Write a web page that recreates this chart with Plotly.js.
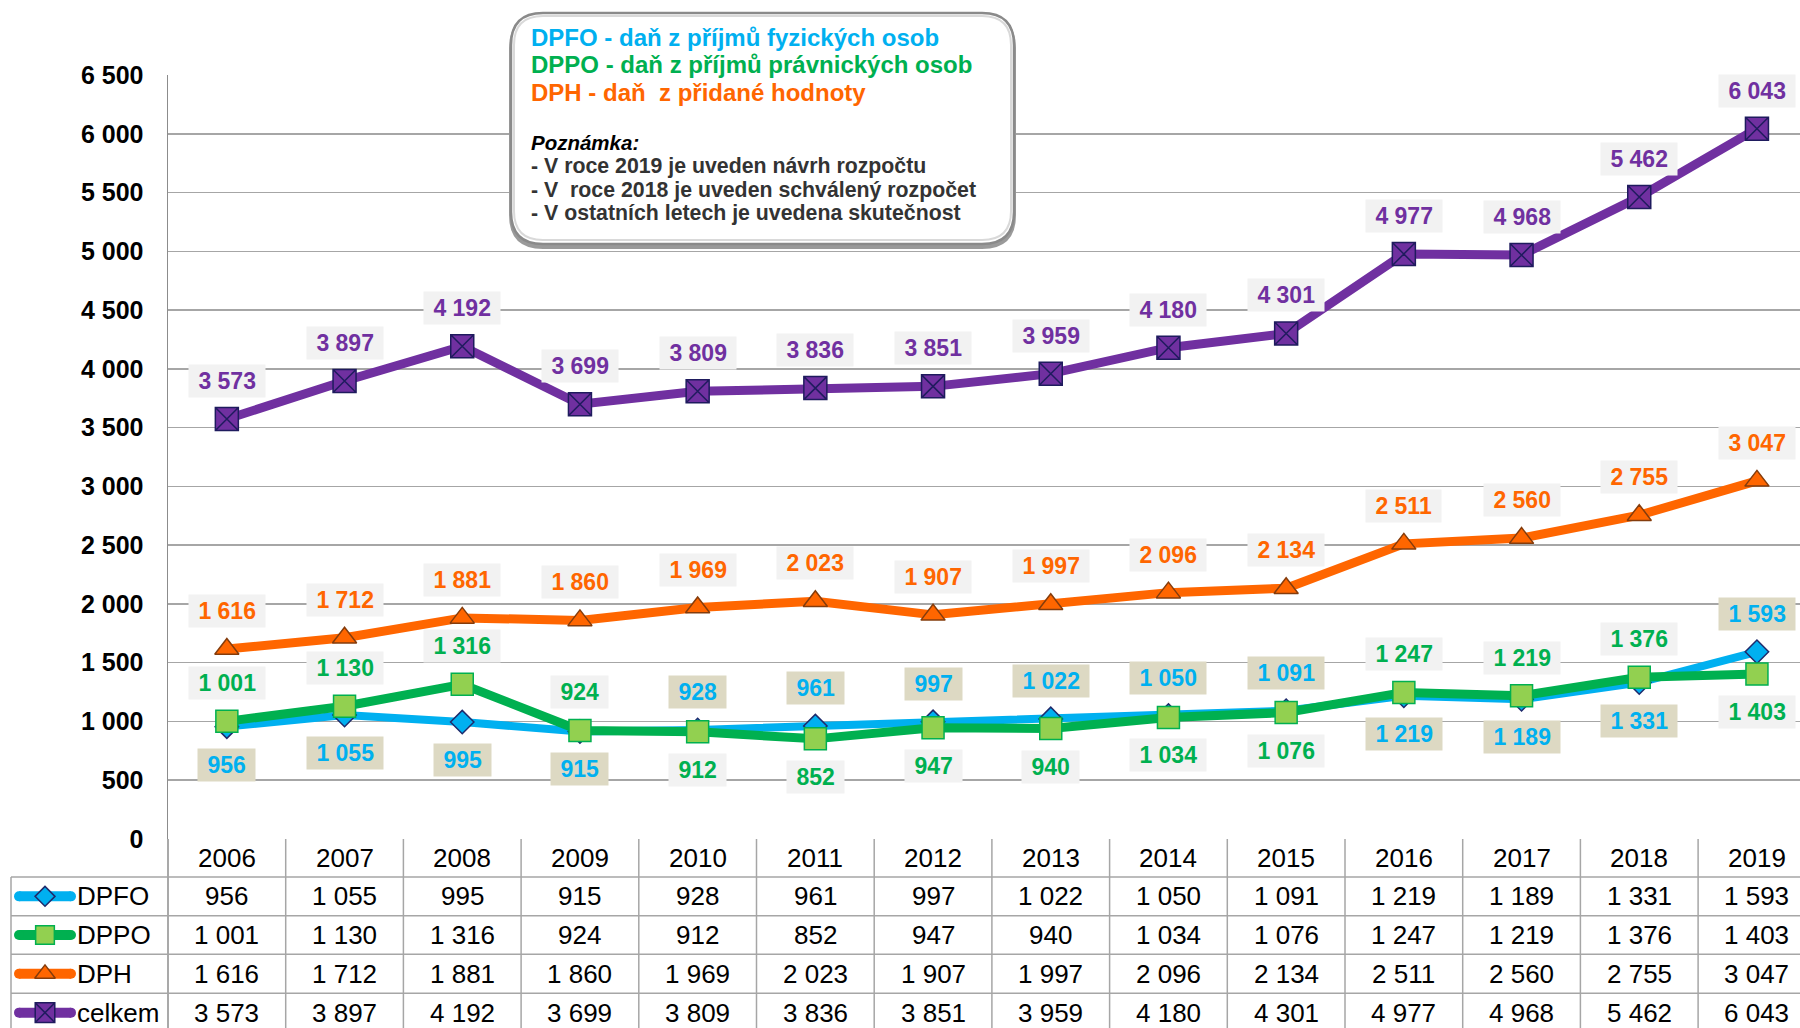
<!DOCTYPE html>
<html>
<head>
<meta charset="utf-8">
<script src="https://cdn.plot.ly/plotly-3.0.1.min.js"></script>
<style>html,body{margin:0;padding:0;background:#fff;}#chart{width:1800px;height:1028px;}</style>
</head>
<body>
<div id="chart"></div>
<script>
// ---- data ----
const years = ['2006','2007','2008','2009','2010','2011','2012','2013','2014','2015','2016','2017','2018','2019'];
const dpfo = [956,1055,995,915,928,961,997,1022,1050,1091,1219,1189,1331,1593];
const dppo = [1001,1130,1316,924,912,852,947,940,1034,1076,1247,1219,1376,1403];
const dph = [1616,1712,1881,1860,1969,2023,1907,1997,2096,2134,2511,2560,2755,3047];
const celkem = [3573,3897,4192,3699,3809,3836,3851,3959,4180,4301,4977,4968,5462,6043];
const seriesNames = ['DPFO','DPPO','DPH','celkem'];
const yTickVals = [0,500,1000,1500,2000,2500,3000,3500,4000,4500,5000,5500,6000,6500];
// label placement (+1 above, -1 below)
const dpfoLabelSide = [-1,-1,-1,-1,1,1,1,1,1,1,-1,-1,-1,1];
const dppoLabelSide = [1,1,1,1,-1,-1,-1,-1,-1,-1,1,1,1,-1];
const legendTitles = ['DPFO - daň z příjmů fyzických osob','DPPO - daň z příjmů právnických osob','DPH - daň\u00a0\u00a0z přidané hodnoty'];
const noteTitle = 'Poznámka:';
const noteLines = ['- V roce 2019 je uveden návrh rozpočtu','-\u00a0V\u00a0\u00a0roce 2018 je uveden schválený rozpočet','- V ostatních letech je uvedena skutečnost'];

// ---- styles ----
const FONT = 'Liberation Sans, Arial, sans-serif';
const C = {
  DPFO: {line:'#00B0F0', fill:'#00B0F0', edge:'#1F2A6B', sym:'diamond', size:18, lw:8, bg:'#DDD9C3'},
  DPPO: {line:'#00B050', fill:'#92D050', edge:'#00B050', sym:'square', size:22, lw:9, bg:'#F2F2F2'},
  DPH: {line:'#FF6600', fill:'#FF6600', edge:'#843C0C', sym:'triangle-up', size:21, lw:9, bg:'#F2F2F2'},
  celkem: {line:'#7030A0', fill:'#7030A0', edge:'#1F1B5E', sym:'square-x', size:23, lw:9, bg:'#F2F2F2'}
};
const seriesData = {DPFO:dpfo, DPPO:dppo, DPH:dph, celkem:celkem};
const fmt = v => String(v).replace(/\B(?=(\d{3})+(?!\d))/g, '\u00a0');

// pixel geometry
const W = 1800, H = 1028;
const plotL = 168, plotT = 75, plotB = 839;
const colW = 117.7;
const rowLines = [877, 915.7, 954.3, 993.3, 1032];
const headerMid = (plotB + rowLines[0]) / 2;

const traces = [];
seriesNames.forEach(n => {
  const s = C[n];
  traces.push({
    type:'scatter', mode:'lines+markers', x: years, y: seriesData[n], name:n,
    xaxis:'x', yaxis:'y', cliponaxis:false, hoverinfo:'skip', showlegend:false,
    line:{color:s.line, width:s.lw},
    marker:{symbol:s.sym, size:s.size, color:s.fill, line:{color:s.edge, width:1.5}}
  });
});
// legend keys in the table (overlay pixel axes)
seriesNames.forEach((n, k) => {
  const s = C[n];
  const yc = (rowLines[k] + rowLines[k+1]) / 2;
  traces.push({type:'scatter', mode:'lines', x:[19,71], y:[yc,yc], xaxis:'x2', yaxis:'y2',
    hoverinfo:'skip', showlegend:false, line:{color:s.line, width:10}});
  traces.push({type:'scatter', mode:'markers', x:[19,71], y:[yc,yc], xaxis:'x2', yaxis:'y2',
    hoverinfo:'skip', showlegend:false, marker:{symbol:'circle', size:10, color:s.line, line:{width:0}}});
  traces.push({type:'scatter', mode:'markers', x:[45], y:[yc], xaxis:'x2', yaxis:'y2',
    hoverinfo:'skip', showlegend:false,
    marker:{symbol:s.sym, size:s.size*0.85, color:s.fill, line:{color:s.edge, width:1.5}}});
});

const annotations = [];
// data labels
const sides = {DPFO:dpfoLabelSide, DPPO:dppoLabelSide, DPH:years.map(()=>1), celkem:years.map(()=>1)};
seriesNames.forEach(n => {
  const s = C[n];
  seriesData[n].forEach((v, i) => {
    annotations.push({
      xref:'x', yref:'y', x:i, y:v, yshift: 38*sides[n][i], showarrow:false,
      text:'\u00a0' + fmt(v) + '\u00a0', bgcolor:s.bg, borderpad:3,
      font:{family:FONT, size:23, color:s.line, weight:'bold'}, xanchor:'center', yanchor:'middle'
    });
  });
});
// table header years
years.forEach((yv, i) => {
  annotations.push({xref:'x', yref:'y2', x:i, y:headerMid, text:yv, showarrow:false,
    font:{family:FONT, size:26, color:'#000'}, xanchor:'center', yanchor:'middle'});
});
// table body
seriesNames.forEach((n, k) => {
  const yc = (rowLines[k] + rowLines[k+1]) / 2;
  annotations.push({xref:'x2', yref:'y2', x:75, y:yc, text:n, showarrow:false,
    font:{family:FONT, size:26, color:'#000'}, xanchor:'left', yanchor:'middle'});
  seriesData[n].forEach((v, i) => {
    annotations.push({xref:'x', yref:'y2', x:i, y:yc, text:fmt(v), showarrow:false,
      font:{family:FONT, size:26, color:'#000'}, xanchor:'center', yanchor:'middle'});
  });
});
// legend box text
const titleColors = [C.DPFO.line, C.DPPO.line, C.DPH.line];
const titleY = [37, 64.5, 92];
legendTitles.forEach((t, k) => {
  annotations.push({xref:'x2', yref:'y2', x:529, y:titleY[k], text:t, showarrow:false,
    font:{family:FONT, size:24, color:titleColors[k], weight:'bold'}, xanchor:'left', yanchor:'middle'});
});
annotations.push({xref:'x2', yref:'y2', x:529, y:142, text:'<i>' + noteTitle + '</i>', showarrow:false,
  font:{family:FONT, size:20.5, color:'#000', weight:'bold'}, xanchor:'left', yanchor:'middle'});
const noteY = [166, 189.5, 213];
noteLines.forEach((t, k) => {
  annotations.push({xref:'x2', yref:'y2', x:529, y:noteY[k], text:t, showarrow:false,
    font:{family:FONT, size:21.3, color:'#333333', weight:'bold'}, xanchor:'left', yanchor:'middle'});
});

// shapes
const shapes = [];
const gridC = '#A6A6A6';
// table vertical lines
for (let i = 0; i < years.length; i++) {
  shapes.push({type:'line', xref:'x', yref:'y2', x0:i+0.5, x1:i+0.5, y0:plotB, y1:H+5, line:{color:gridC, width:1.5}, layer:'above'});
}
shapes.push({type:'line', xref:'x2', yref:'y2', x0:plotL, x1:plotL, y0:plotB, y1:H+5, line:{color:'#8C8C8C', width:1.5}, layer:'above'});
// table horizontal lines
rowLines.slice(0,4).forEach(yy => {
  shapes.push({type:'line', xref:'x2', yref:'y2', x0:11, x1:W+5, y0:yy, y1:yy, line:{color:gridC, width:1.5}, layer:'above'});
});
shapes.push({type:'line', xref:'x2', yref:'y2', x0:11, x1:11, y0:rowLines[0], y1:H+5, line:{color:gridC, width:1.5}, layer:'above'});

// legend box (rounded rectangle)
function rr(x0, y0, x1, y1, r) {
  return `M ${x0+r},${y0} L ${x1-r},${y0} Q ${x1},${y0} ${x1},${y0+r} L ${x1},${y1-r} Q ${x1},${y1} ${x1-r},${y1} ` +
         `L ${x0+r},${y1} Q ${x0},${y1} ${x0},${y1-r} L ${x0},${y0+r} Q ${x0},${y0} ${x0+r},${y0} Z`;
}
shapes.push({type:'path', xref:'x2', yref:'y2', path: rr(509, 14, 1016, 249, 34), fillcolor:'#9a9a9a', line:{width:0}, layer:'above'});
shapes.push({type:'path', xref:'x2', yref:'y2', path: rr(511, 13, 1014, 244, 32), fillcolor:'#ffffff', line:{color:'#8a8a8a', width:2.5}, layer:'above'});
shapes.push({type:'path', xref:'x2', yref:'y2', path: rr(514, 16, 1011, 240, 29), fillcolor:'rgba(0,0,0,0)', line:{color:'#d9d9d9', width:2}, layer:'above'});

const xSpan = (W - plotL) / colW;
const layout = {
  width: W, height: H, margin:{l:0, r:0, t:0, b:0},
  paper_bgcolor:'#ffffff', plot_bgcolor:'rgba(0,0,0,0)', showlegend:false,
  separators:', ',
  font:{family:FONT},
  xaxis:{type:'category', domain:[plotL/W, 1], range:[-0.5, -0.5 + xSpan], showgrid:false, zeroline:false,
    showline:false, showticklabels:false, ticks:'', anchor:'y', fixedrange:true},
  yaxis:{domain:[(H-plotB)/H, (H-plotT)/H], range:[0, 6500], tickvals:yTickVals, ticktext:yTickVals.map(fmt),
    showgrid:true, gridcolor:gridC, gridwidth:1.5, zeroline:false, showline:true, linecolor:'#8C8C8C', linewidth:1.5,
    ticks:'', ticklabelstandoff:18, tickfont:{family:FONT, size:25, color:'#000', weight:'bold'}, anchor:'x', fixedrange:true},
  xaxis2:{domain:[0,1], range:[0, W], visible:false, anchor:'y2', fixedrange:true},
  yaxis2:{domain:[0,1], range:[H, 0], visible:false, anchor:'x2', fixedrange:true},
  shapes: shapes,
  annotations: annotations
};
Plotly.newPlot('chart', traces, layout, {displayModeBar:false, staticPlot:true});
</script>
</body>
</html>
